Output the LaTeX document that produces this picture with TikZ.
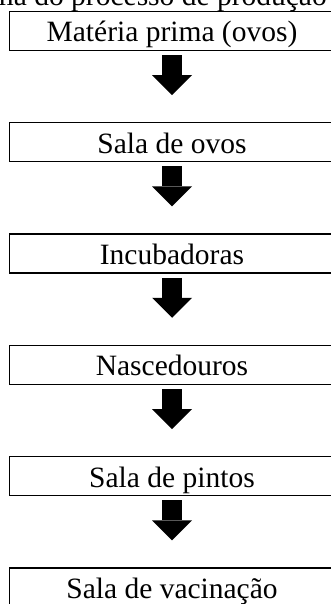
\documentclass[tikz,border=0pt]{standalone}
\usepackage{fontspec}
\setmainfont{Liberation Serif}
\usetikzlibrary{positioning,arrows.meta}

\tikzset{
  etapa/.style={draw, line width=1.3pt, minimum width=325pt, minimum height=39pt,
    inner sep=0pt, text height=26pt, text depth=4pt,
    font=\fontsize{29.5}{34}\selectfont},
  seta/.style={line width=20pt, -{Triangle[length=20pt,width=40pt,line width=0pt]},
    shorten <=4pt, shorten >=27pt},
}

\begin{document}
\begin{tikzpicture}[x=1pt,y=1pt,node distance=71pt]
\useasboundingbox (0,0) rectangle (330,-604);

% titulo (cortado no topo)
\node[anchor=base east, inner sep=0pt, font=\fontsize{29.5}{34}\selectfont] (titulo) at (327,-6)
  {Fluxograma do processo de produção};

% etapas
\node[etapa] (materia) at (172,-31) {Matéria prima (ovos)};
\node[etapa, below=of materia] (salaovos) {Sala de ovos};
\node[etapa, below=of salaovos] (incub) {Incubadoras};
\node[etapa, below=of incub] (nasc) {Nascedouros};
\node[etapa, below=of nasc] (pintos) {Sala de pintos};
\node[etapa, below=of pintos] (vacina) {Sala de vacinação};

% setas
\draw[seta] (materia) -- (salaovos);
\draw[seta] (salaovos) -- (incub);
\draw[seta] (incub) -- (nasc);
\draw[seta] (nasc) -- (pintos);
\draw[seta] (pintos) -- (vacina);
\end{tikzpicture}
\end{document}
